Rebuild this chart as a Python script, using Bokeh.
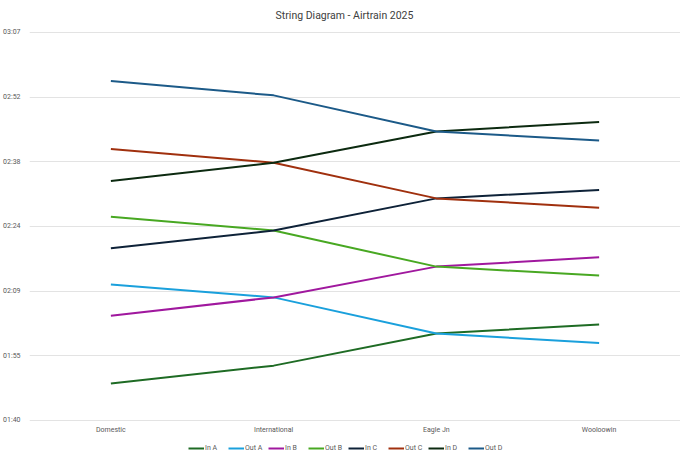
from bokeh.plotting import figure
from bokeh.models import Range1d, FixedTicker, Legend, LegendItem, Label
from bokeh.embed import file_html
from bokeh.resources import INLINE

# Stations (x categories)
stations = ["Domestic", "International", "Eagle Jn", "Wooloowin"]

# Times in minutes after midnight
in_a  = [108.3, 112.3, 119.5, 121.5]
out_a = [130.5, 127.6, 119.5, 117.4]
in_b  = [123.5, 127.6, 134.5, 136.6]
out_b = [145.7, 142.6, 134.5, 132.5]
in_c  = [138.6, 142.6, 149.8, 151.7]
out_c = [160.9, 157.8, 149.8, 147.7]
in_d  = [153.7, 157.8, 164.8, 166.9]
out_d = [176.1, 172.9, 164.8, 162.8]

series_names = ["In A", "Out A", "In B", "Out B", "In C", "Out C", "In D", "Out D"]
series_vals = [in_a, out_a, in_b, out_b, in_c, out_c, in_d, out_d]
series_colors = ["#1e6b24", "#1aa0dc", "#a0189e", "#48a822", "#0e2238", "#a0300e", "#0c2a10", "#1c5a88"]

# Y ticks (minutes) and their labels
y_ticks = [100, 114.5, 129, 143.5, 158, 172.5, 187]
y_labels = ["01:40", "01:55", "02:09", "02:24", "02:38", "02:52", "03:07"]

TITLE = "String Diagram - Airtrain 2025"
FONT = "Roboto"
TXT = "#595959"

p = figure(width=680, height=455, output_backend="svg", toolbar_location=None,
           x_range=Range1d(-0.50, 3.50), y_range=Range1d(92.15, 194.17),
           min_border_left=0, min_border_right=0, min_border_top=0, min_border_bottom=0)

xs = list(range(len(stations)))
items = []
for name, vals, col in zip(series_names, series_vals, series_colors):
    r = p.line(xs, vals, line_color=col, line_width=2)
    items.append(LegendItem(label=name, renderers=[r]))

p.outline_line_color = None
p.xgrid.grid_line_color = None
p.ygrid.grid_line_color = "#e3e3e3"
p.ygrid.grid_line_width = 1

p.yaxis.ticker = FixedTicker(ticks=y_ticks)
p.yaxis.major_label_overrides = {t: l for t, l in zip(y_ticks, y_labels)}
p.yaxis.axis_line_color = None
p.yaxis.major_tick_line_color = None
p.yaxis.minor_tick_line_color = None
p.yaxis.major_label_text_font = FONT
p.yaxis.major_label_text_font_size = "7px"
p.yaxis.major_label_text_color = TXT
p.yaxis.major_label_standoff = 3
p.xaxis.visible = False

# Title (inside the frame, screen units from frame bottom-left)
p.add_layout(Label(x=315, y=440, x_units="screen", y_units="screen", text=TITLE,
                   text_align="center", text_baseline="middle", text_font=FONT,
                   text_font_size="10.5px", text_color="#404040"))

# Station labels
for i, s in enumerate(stations):
    p.add_layout(Label(x=xs[i], y=26, y_units="screen", text=s,
                       text_align="center", text_baseline="middle", text_font=FONT,
                       text_font_size="7px", text_color=TXT))

legend = Legend(items=items, orientation="horizontal", location=(159, 3),
                label_text_font=FONT, label_text_font_size="7px",
                label_text_color=TXT, glyph_width=16, glyph_height=8,
                label_standoff=1, spacing=3, padding=2, margin=0,
                label_height=8,
                border_line_color=None, background_fill_alpha=0)
p.add_layout(legend, "center")

open("out.html", "w").write(file_html(p, INLINE))
